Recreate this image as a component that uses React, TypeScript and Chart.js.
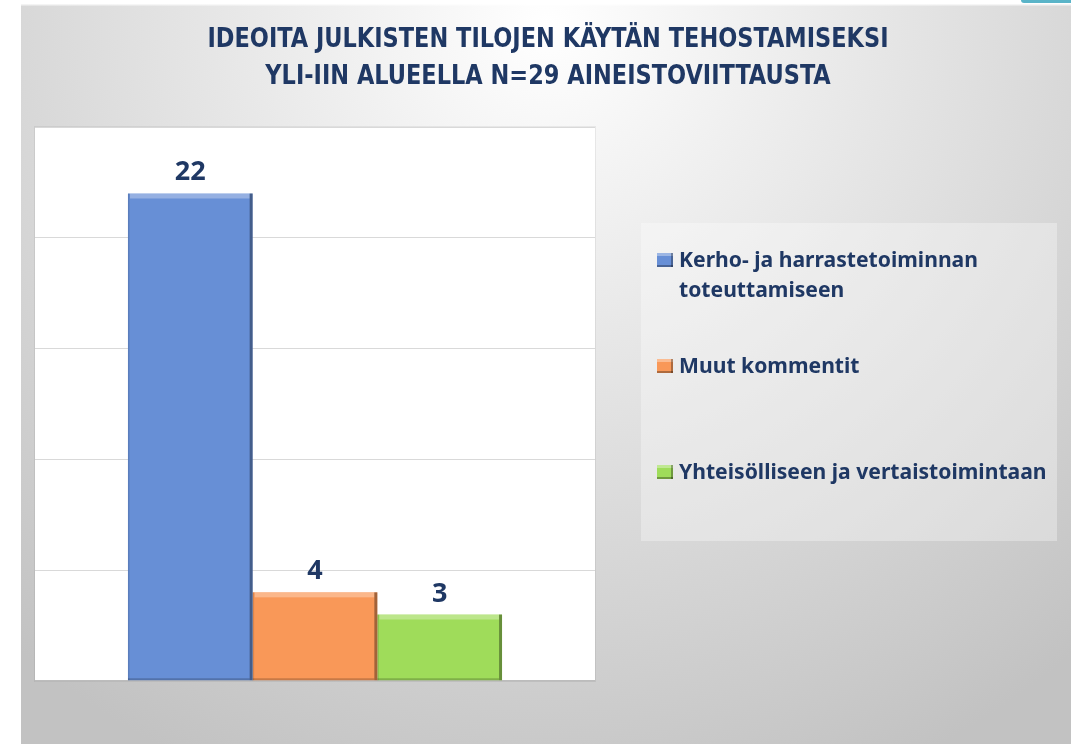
import React, { useEffect, useRef } from "react";
import { Chart, registerables } from "chart.js";

Chart.register(...registerables);

const titleLines = [
  "IDEOITA JULKISTEN TILOJEN KÄYTÄN TEHOSTAMISEKSI",
  "YLI-IIN ALUEELLA N=29 AINEISTOVIITTAUSTA",
];
const categories = [""];
const seriesNames = [
  ["Kerho- ja harrastetoiminnan", "toteuttamiseen"],
  ["Muut kommentit"],
  ["Yhteisölliseen ja vertaistoimintaan"],
];
const seriesValues = [22, 4, 3];
const seriesColors = ["#678fd6", "#f99858", "#9fdc5a"];
const yMax = 25;
const yStep = 5;

const NAVY = "#1f3864";
const TITLE_FONT = "bold 27px 'DejaVu Sans Condensed', 'Liberation Sans Narrow', sans-serif";
const LABEL_FONT = "bold 27px 'Noto Sans', sans-serif";
const LEGEND_FONT = "bold 21px 'Noto Sans', sans-serif";

function drawScaled(ctx: any, text: string, x: number, y: number, sx: number, align: string) {
  ctx.save();
  ctx.translate(x, y);
  ctx.scale(sx, 1);
  ctx.textAlign = align;
  ctx.fillText(text, 0, 0);
  ctx.restore();
}

const decorPlugin = {
  id: "decor",
  beforeDraw(chart: any) {
    const { ctx, width, height, chartArea } = chart;
    ctx.save();
    const g = ctx.createRadialGradient(527, 20, 0, 527, 20, 820);
    g.addColorStop(0, "#ffffff");
    g.addColorStop(1, "#c2c2c2");
    ctx.fillStyle = g;
    ctx.fillRect(0, 0, width, height);
    ctx.fillStyle = "rgba(255,255,255,0.7)";
    ctx.fillRect(0, 0, width, 1.5);
    // title
    ctx.fillStyle = NAVY;
    ctx.font = TITLE_FONT;
    ctx.textBaseline = "alphabetic";
    const tw = ctx.measureText(titleLines[0]).width;
    const tsx = 681 / tw;
    drawScaled(ctx, titleLines[0], 527, 43, tsx, "center");
    drawScaled(ctx, titleLines[1], 527, 80, tsx, "center");
    // plot area
    ctx.fillStyle = "#ffffff";
    ctx.fillRect(chartArea.left, chartArea.top, chartArea.right - chartArea.left, chartArea.bottom - chartArea.top);
    ctx.strokeStyle = "rgba(0,0,0,0.06)";
    ctx.lineWidth = 1;
    ctx.strokeRect(chartArea.left - 0.5, chartArea.top - 0.5, chartArea.right - chartArea.left + 1, chartArea.bottom - chartArea.top + 1);
    // legend box
    ctx.fillStyle = "rgba(255,255,255,0.32)";
    ctx.fillRect(620, 219, 416, 318);
    const baselines = [[263, 293], [369], [475]];
    ctx.font = LEGEND_FONT;
    const lw = ctx.measureText(seriesNames[0][0]).width;
    const lsx = 299 / lw;
    seriesNames.forEach((lines, i) => {
      const b0 = baselines[i][0];
      const mx = 636, my = b0 - 14, mw = 16, mh = 14;
      ctx.fillStyle = seriesColors[i];
      ctx.fillRect(mx, my, mw, mh);
      ctx.fillStyle = "rgba(255,255,255,0.35)";
      ctx.fillRect(mx, my, mw, 3);
      ctx.fillStyle = "rgba(0,0,0,0.3)";
      ctx.fillRect(mx + mw - 2, my, 2, mh);
      ctx.fillRect(mx, my + mh - 2, mw, 2);
      ctx.fillStyle = NAVY;
      lines.forEach((t, j) => drawScaled(ctx, t, 658, baselines[i][j], lsx, "left"));
    });
    ctx.restore();
  },
  afterDatasetsDraw(chart: any) {
    const { ctx } = chart;
    ctx.save();
    chart.data.datasets.forEach((ds: any, i: number) => {
      const meta = chart.getDatasetMeta(i);
      meta.data.forEach((bar: any, j: number) => {
        const { x, y, base, width } = bar.getProps(["x", "y", "base", "width"], true);
        const l = x - width / 2;
        const h = base - y;
        ctx.fillStyle = "rgba(255,255,255,0.3)";
        ctx.fillRect(l + 2, y, width - 5, 5);
        ctx.fillStyle = "rgba(0,0,0,0.35)";
        ctx.fillRect(l + width - 3, y, 3, h);
        ctx.fillStyle = "rgba(0,0,0,0.2)";
        ctx.fillRect(l, base - 2, width - 3, 2);
        ctx.fillStyle = "rgba(0,0,0,0.12)";
        ctx.fillRect(l, y, 1.5, h);
        ctx.fillStyle = NAVY;
        ctx.font = LABEL_FONT;
        ctx.textAlign = "center";
        ctx.textBaseline = "alphabetic";
        ctx.fillText(String(ds.data[j]), x, y - 13);
      });
    });
    ctx.restore();
  },
};

export default function App() {
  const ref = useRef<HTMLCanvasElement>(null);
  useEffect(() => {
    if (!ref.current) return;
    const chart = new Chart(ref.current, {
      type: "bar",
      data: {
        labels: categories,
        datasets: seriesValues.map((v, i) => ({
          label: seriesNames[i].join(" "),
          data: [v],
          backgroundColor: seriesColors[i],
          borderWidth: 0,
          barPercentage: 1,
          categoryPercentage: 0.668,
        })),
      },
      options: {
        responsive: false,
        animation: false,
        devicePixelRatio: 1,
        layout: { padding: { left: 14, right: 476, top: 123, bottom: 63 } },
        plugins: { legend: { display: false }, title: { display: false }, tooltip: { enabled: false } },
        scales: {
          x: { display: false },
          y: {
            min: 0,
            max: yMax,
            ticks: { stepSize: yStep, display: false },
            border: { display: false },
            grid: {
              drawTicks: false,
              color: (c: any) => (c.tick && c.tick.value === 0 ? "#bcbcbc" : "#d9d9d9"),
              lineWidth: (c: any) => (c.tick && c.tick.value === 0 ? 1.5 : 1),
            },
          },
        },
      },
      plugins: [decorPlugin],
    });
    return () => chart.destroy();
  }, []);
  return (
    <div style={{ position: "fixed", left: 0, top: 0, width: 1071, height: 744, background: "#fff" }}>
      <div style={{ position: "absolute", left: 1021, top: 0, width: 50, height: 3, background: "#5ab4c8", borderBottomLeftRadius: 3 }} />
      <canvas ref={ref} width={1050} height={740} style={{ position: "absolute", left: 21, top: 4, width: 1050, height: 740 }} />
    </div>
  );
}
